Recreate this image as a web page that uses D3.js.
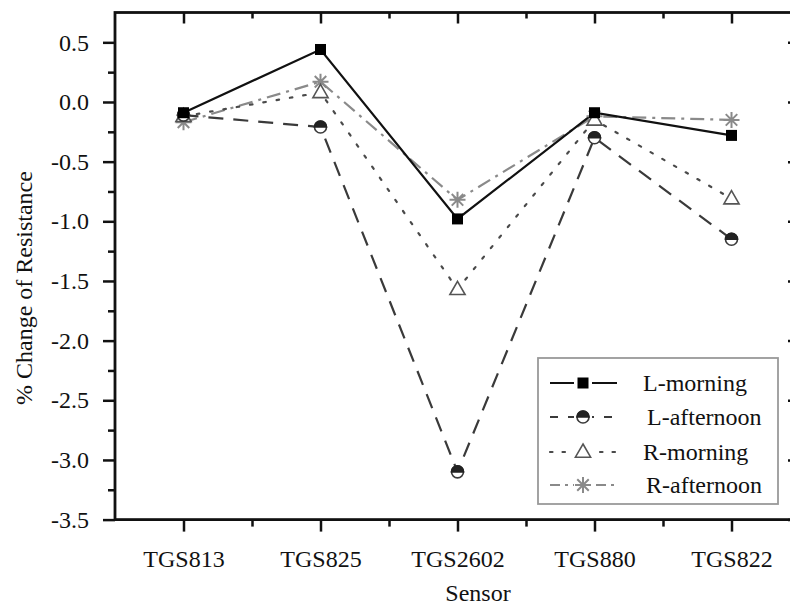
<!DOCTYPE html>
<html>
<head>
<meta charset="utf-8">
<script src="https://cdn.jsdelivr.net/npm/d3@7"></script>
<style>
  html, body { margin: 0; padding: 0; background: #fff; }
  svg { display: block; }
</style>
</head>
<body>
<div id="chart"></div>
<script>
// data
const sensors = ["TGS813", "TGS825", "TGS2602", "TGS880", "TGS822"];
const lMorning   = [-0.09, 0.44, -0.98, -0.09, -0.28];
const lAfternoon = [-0.11, -0.21, -3.10, -0.30, -1.15];
const rMorning   = [-0.12, 0.08, -1.57, -0.15, -0.81];
const rAfternoon = [-0.17, 0.17, -0.82, -0.12, -0.15];
const yTicks = [0.5, 0.0, -0.5, -1.0, -1.5, -2.0, -2.5, -3.0, -3.5];
const seriesNames = ["L-morning", "L-afternoon", "R-morning", "R-afternoon"];

const width = 790, height = 606;
const plot = {left: 115, right: 800, top: 12.5, bottom: 519.6};
const serif = "'Liberation Serif', 'Times New Roman', 'DejaVu Serif', serif";
const fontSize = 24;

const svg = d3.select("#chart").append("svg")
  .attr("width", width).attr("height", height)
  .attr("font-family", serif);

const x = d3.scaleLinear().domain([0.5, 5.5]).range([plot.left, plot.right]);
const y = d3.scaleLinear().domain([-3.5, 0.75]).range([plot.bottom, plot.top]);

const styles = [
  {color: "#111", dash: null, marker: "square"},
  {color: "#3a3a3a", dash: "15,10", marker: "halfcircle"},
  {color: "#4a4a4a", dash: "2.5,11", marker: "triangle"},
  {color: "#8a8a8a", dash: "14,6,3,6", marker: "asterisk"}
];
const allSeries = [lMorning, lAfternoon, rMorning, rAfternoon];

// axes
const catIdx = sensors.map((d, i) => i + 1);
const minorX = [1.5, 2.5, 3.5, 4.5, 5.5];
const minorY = d3.range(-3.25, 0.75, 0.5);

function tickOnly(g, axis, values, len) {
  g.call(axis.tickValues(values).tickSize(len).tickFormat(""));
  g.select(".domain").remove();
  g.selectAll(".tick line").attr("stroke", "#111").attr("stroke-width", 2.5);
}

const ax = svg.append("g");
// bottom axis with labels
const bottomAxis = ax.append("g").attr("transform", `translate(0,${plot.bottom})`);
bottomAxis.call(d3.axisBottom(x).tickValues(catIdx).tickSize(12).tickFormat((d) => sensors[d - 1]));
bottomAxis.attr("font-family", serif).attr("font-size", fontSize);
bottomAxis.select(".domain").remove();
bottomAxis.selectAll(".tick line").attr("stroke", "#111").attr("stroke-width", 2.5);
bottomAxis.selectAll(".tick text").attr("fill", "#111").attr("dy", 0).attr("y", 47);
tickOnly(ax.append("g").attr("transform", `translate(0,${plot.bottom})`), d3.axisBottom(x), minorX, 7);

// top axis, ticks inward
tickOnly(ax.append("g").attr("transform", `translate(0,${plot.top})`), d3.axisTop(x), catIdx, -11);
tickOnly(ax.append("g").attr("transform", `translate(0,${plot.top})`), d3.axisTop(x), minorX, -6);

// left axis with labels
const leftAxis = ax.append("g").attr("transform", `translate(${plot.left},0)`);
leftAxis.call(d3.axisLeft(y).tickValues(yTicks).tickSize(12).tickFormat(d3.format(".1f")));
leftAxis.attr("font-family", serif).attr("font-size", fontSize);
leftAxis.select(".domain").remove();
leftAxis.selectAll(".tick line").attr("stroke", "#111").attr("stroke-width", 2.5);
leftAxis.selectAll(".tick text").attr("fill", "#111").attr("x", -26).attr("dy", "0.32em")
  .text((d) => d3.format(".1f")(d).replace("\u2212", "-"));
tickOnly(ax.append("g").attr("transform", `translate(${plot.left},0)`), d3.axisLeft(y), minorY, 7);

// right axis, ticks inward
tickOnly(ax.append("g").attr("transform", `translate(${plot.right},0)`), d3.axisRight(y), yTicks, -12);
tickOnly(ax.append("g").attr("transform", `translate(${plot.right},0)`), d3.axisRight(y), minorY, -7);

// frame
svg.append("rect")
  .attr("x", plot.left).attr("y", plot.top)
  .attr("width", plot.right - plot.left).attr("height", plot.bottom - plot.top)
  .attr("fill", "none").attr("stroke", "#111").attr("stroke-width", 2.8);

// axis titles
svg.append("text")
  .attr("transform", `translate(32,${(plot.top + plot.bottom) / 2 + 22}) rotate(-90)`)
  .attr("text-anchor", "middle").attr("font-size", fontSize).attr("fill", "#111")
  .text("% Change of Resistance");
svg.append("text")
  .attr("x", 478).attr("y", 601)
  .attr("text-anchor", "middle").attr("font-size", fontSize).attr("fill", "#111")
  .text("Sensor");

// markers
function drawMarker(g, type, color, cx, cy) {
  if (type === "square") {
    g.append("rect").attr("x", cx - 5.5).attr("y", cy - 5.5).attr("width", 11).attr("height", 11)
      .attr("fill", "#000");
  } else if (type === "halfcircle") {
    const r = 6;
    g.append("circle").attr("cx", cx).attr("cy", cy).attr("r", r)
      .attr("fill", "#fff").attr("stroke", color).attr("stroke-width", 1.6);
    g.append("path")
      .attr("d", `M${cx - r},${cy} A${r},${r} 0 0 1 ${cx + r},${cy} Z`)
      .attr("fill", "#222").attr("stroke", "#222").attr("stroke-width", 1.6);
  } else if (type === "triangle") {
    const s = 8;
    g.append("path")
      .attr("d", `M${cx},${cy - s} L${cx + s * 0.95},${cy + s * 0.65} L${cx - s * 0.95},${cy + s * 0.65} Z`)
      .attr("fill", "#fff").attr("stroke", "#555").attr("stroke-width", 1.6);
  } else if (type === "asterisk") {
    const s = 8, d = s * 0.72;
    g.append("path")
      .attr("d", `M${cx - s},${cy} H${cx + s} M${cx},${cy - s} V${cy + s} M${cx - d},${cy - d} L${cx + d},${cy + d} M${cx - d},${cy + d} L${cx + d},${cy - d}`)
      .attr("stroke", color).attr("stroke-width", 2).attr("fill", "none");
  }
}

// series lines
const line = d3.line().x((d, i) => x(i + 1)).y((d) => y(d));
const drawOrder = [3, 2, 1, 0];
drawOrder.forEach((k) => {
  const st = styles[k];
  svg.append("path")
    .datum(allSeries[k])
    .attr("d", line)
    .attr("fill", "none")
    .attr("stroke", st.color)
    .attr("stroke-width", 2.2)
    .attr("stroke-dasharray", st.dash)
    .attr("stroke-linecap", k === 2 ? "round" : "butt");
});
drawOrder.forEach((k) => {
  const g = svg.append("g");
  allSeries[k].forEach((v, i) => drawMarker(g, styles[k].marker, styles[k].color, x(i + 1), y(v)));
});

// legend
const legend = svg.append("g");
legend.append("rect")
  .attr("x", 538).attr("y", 358).attr("width", 240).attr("height", 146)
  .attr("fill", "#fff").attr("stroke", "#999").attr("stroke-width", 1.8);
const legendRows = [383, 417, 452, 485];
const legendTextX = [643, 647, 643, 646];
seriesNames.forEach((name, k) => {
  const st = styles[k];
  const ly = legendRows[k];
  legend.append("line")
    .attr("x1", 550).attr("x2", 617).attr("y1", ly).attr("y2", ly)
    .attr("stroke", st.color).attr("stroke-width", 2.2)
    .attr("stroke-dasharray", k === 1 ? "8,10" : k === 2 ? "2.5,10" : k === 3 ? "10,5,3,5" : null)
    .attr("stroke-linecap", k === 2 ? "round" : "butt");
  legend.append("rect").attr("x", 574).attr("y", ly - 9).attr("width", 18).attr("height", 18).attr("fill", "#fff");
  drawMarker(legend, st.marker, st.color, 583, ly);
  legend.append("text").attr("x", legendTextX[k]).attr("y", ly).attr("dy", "0.35em")
    .attr("font-size", fontSize).attr("fill", "#111").text(name);
});
</script>
</body>
</html>
